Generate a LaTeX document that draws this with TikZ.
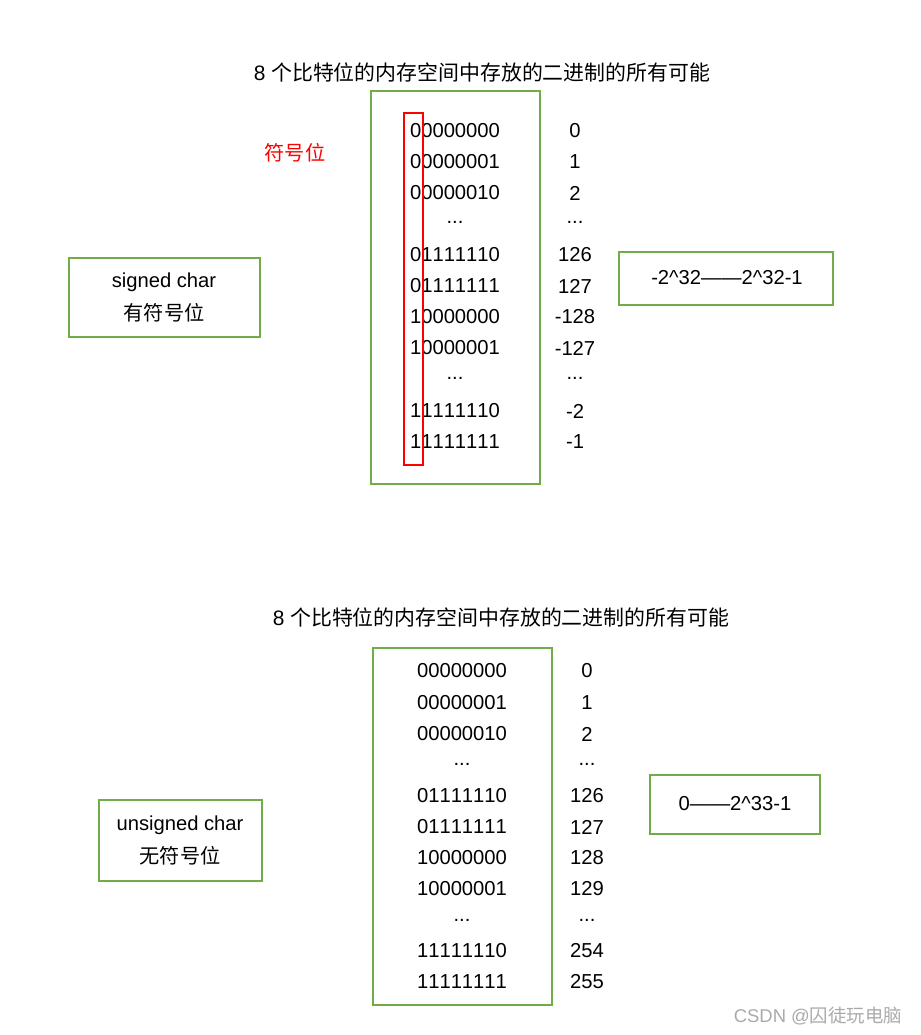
\documentclass[tikz,border=0pt]{standalone}
\usepackage{fontspec}
\setmainfont{Liberation Sans}[Kerning=Off]
\newfontfamily\cjk{Noto Sans CJK SC}
\definecolor{boxgreen}{RGB}{112,173,71}
\definecolor{markred}{RGB}{255,0,0}
\definecolor{wmgray}{RGB}{170,170,170}
\newcommand\rowdots{...}

\begin{document}
\begin{tikzpicture}[x=0.02cm,y=-0.02cm,line width=1.1pt,
  font=\fontsize{11.5pt}{14pt}\selectfont,
  greenbox/.style={draw=boxgreen},
  redbox/.style={draw=markred},
  title/.style={font=\fontsize{11.9pt}{14pt}\selectfont}]
\useasboundingbox (0,0) rectangle (920,1035);
% 有符号
\node[title] (t1) at (482,72) {8 {\cjk 个比特位的内存空间中存放的二进制的所有可能}};
\draw[greenbox] (371,91) rectangle (540,484);
\foreach \b/\v/\y [count=\i] in {00000000/0/131,00000001/1/162,00000010/2/193,
    \rowdots/\rowdots/222,01111110/126/255,01111111/127/286,10000000/-128/317,
    10000001/-127/348,\rowdots/\rowdots/378,11111110/-2/411,11111111/-1/442}
  {\node (sb\i) at (455,\y) {\b};
   \node (sv\i) at (575,\y) {\v};}
% 符号位
\draw[redbox] (404,113) rectangle (423,465);
\node[text=markred] (sign) at (295,153) {\cjk 符号位};
\draw[greenbox] (69,258) rectangle (260,337);
\node (sc1) at (164,282) {signed char};
\node (sc2) at (164,313) {\cjk 有符号位};
\draw[greenbox] (619,252) rectangle (833,305);
\node (sr) at (727,278) {-2\textasciicircum32——2\textasciicircum32-1};
% 无符号
\node[title] (t2) at (501,617) {8 {\cjk 个比特位的内存空间中存放的二进制的所有可能}};
\draw[greenbox] (373,648) rectangle (552,1005);
\foreach \b/\v/\y [count=\i] in {00000000/0/671,00000001/1/703,00000010/2/734,
    \rowdots/\rowdots/764,01111110/126/796,01111111/127/827,10000000/128/858,
    10000001/129/889,\rowdots/\rowdots/920,11111110/254/951,11111111/255/982}
  {\node (ub\i) at (462,\y) {\b};
   \node (uv\i) at (587,\y) {\v};}
\draw[greenbox] (99,800) rectangle (262,881);
\node (uc1) at (180,825) {unsigned char};
\node (uc2) at (180,856) {\cjk 无符号位};
\draw[greenbox] (650,775) rectangle (820,834);
\node (ur) at (735,804) {0——2\textasciicircum33-1};
\node[text=wmgray,font=\fontsize{10.5pt}{12pt}\selectfont] (wm) at (818,1016) {CSDN @{\cjk 囚徒玩电脑}};
\end{tikzpicture}
\end{document}
